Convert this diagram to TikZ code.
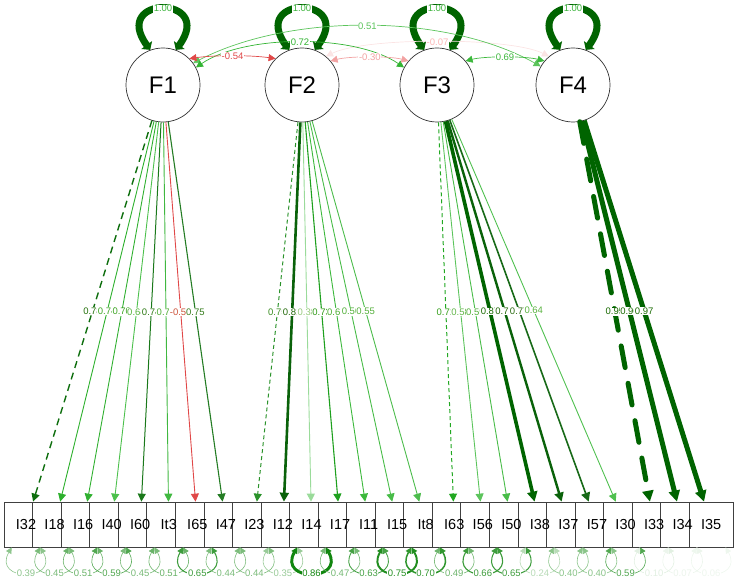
\documentclass[tikz,border=0pt]{standalone}
\usepackage{fontspec}
\setmainfont{Liberation Sans}
\usetikzlibrary{arrows.meta}
\definecolor{dg}{HTML}{006400}
\definecolor{lg}{HTML}{3CB43C}
\definecolor{resG}{HTML}{11860F}
\definecolor{redc}{HTML}{E04848}
\definecolor{pinkc}{HTML}{F2A2A2}
\definecolor{faintc}{HTML}{FBE4E4}
\definecolor{g72}{HTML}{33B433}
\definecolor{g51}{HTML}{5CC45C}
\definecolor{g69}{HTML}{3CB83C}
\definecolor{c0}{HTML}{0E6E0E}
\definecolor{c1}{HTML}{2DB02D}
\definecolor{c2}{HTML}{30B030}
\definecolor{c3}{HTML}{4CC04C}
\definecolor{c4}{HTML}{1A781A}
\definecolor{c5}{HTML}{40B840}
\definecolor{c6}{HTML}{E04848}
\definecolor{c7}{HTML}{247C24}
\definecolor{c8}{HTML}{2A922A}
\definecolor{c9}{HTML}{0A620A}
\definecolor{c10}{HTML}{9ADB9A}
\definecolor{c11}{HTML}{1EA01E}
\definecolor{c12}{HTML}{3CB83C}
\definecolor{c13}{HTML}{48BC48}
\definecolor{c14}{HTML}{4CBC4C}
\definecolor{c15}{HTML}{22A822}
\definecolor{c16}{HTML}{5CC45C}
\definecolor{c17}{HTML}{48BC48}
\definecolor{c18}{HTML}{006400}
\definecolor{c19}{HTML}{0A620A}
\definecolor{c20}{HTML}{186A18}
\definecolor{c21}{HTML}{50C050}
\definecolor{c22}{HTML}{006400}
\definecolor{c23}{HTML}{006400}
\definecolor{c24}{HTML}{006400}
\tikzset{
  lat/.style={circle, draw=black!80, fill=white, line width=0.7pt, minimum size=74pt, inner sep=0pt, font=\fontsize{24}{24}\selectfont},
  obs/.style={draw=black!75, fill=white, line width=0.7pt, minimum width=44pt, minimum height=45pt, inner sep=0pt},
  obstxt/.style={font=\fontsize{14.5}{14.5}\selectfont, inner sep=0pt},
  elab/.style={fill=white, inner sep=0.6pt, font=\fontsize{9.5}{9.5}\selectfont},
  selfloop/.style={draw=dg, line width=7pt, {Triangle[length=6pt,width=13pt]}-{Triangle[length=6pt,width=13pt]}},
  cov/.style={line width=0.7pt, {Triangle[length=7pt,width=7pt]}-{Triangle[length=7pt,width=7pt]}},
  resloop/.style={{Triangle[length=6pt,width=6pt]}-{Triangle[length=6pt,width=6pt]}},
  nd/.style={},
  da/.style={dash pattern=on 7pt off 5pt},
  db/.style={dash pattern=on 4pt off 3pt},
  dc/.style={dash pattern=on 22pt off 16pt, line cap=round}
}
\begin{document}
\begin{tikzpicture}[x=1pt,y=1pt]
\useasboundingbox (0,0) rectangle (738,584);

% latent variables
\node[lat] (F1) at (163,499) {F1};
\node[lat] (F2) at (302,499) {F2};
\node[lat] (F3) at (437,499) {F3};
\node[lat] (F4) at (573,499) {F4};

\foreach \f/\x in {F1/163,F2/302,F3/437,F4/573}{
  \draw[selfloop] (\f.110) .. controls ({\x-53},589) and ({\x+53},589) .. (\f.70)
     node[pos=0.5, elab, text=lg] (V\f) {1.00};
}

% covariances
\draw[cov, draw=faintc] (F2.50) .. controls (365,547) and (510,547) .. (F4.130)
   node[pos=0.5, elab, text=faintc!80!red] (C24) {-0.07};
\draw[cov, draw=g51] (F1.36) .. controls (290,571) and (445,571) .. (F4.150)
   node[pos=0.5, elab, text=g51] (C14) {0.51};
\draw[cov, draw=g72] (F1.28) .. controls (245,550) and (355,550) .. (F3.152)
   node[pos=0.5, elab, text=g72] (C13) {0.72};
\draw[cov, draw=pinkc] (F2.40) .. controls (350,528) and (390,528) .. (F3.140)
   node[pos=0.5, elab, text=pinkc] (C23) {-0.30};
\draw[cov, draw=redc] (F1.45) .. controls (215,529) and (250,529) .. (F2.135)
   node[pos=0.5, elab, text=redc] (C12) {-0.54};
\draw[cov, draw=g69] (F3.40) .. controls (485,528) and (525,528) .. (F4.140)
   node[pos=0.5, elab, text=g69] (C34) {0.69};

% observed variables
\foreach \k in {0,...,24}{
  \node[obs] (b\k) at ({26+28.55*\k},59.5) {};
}
\foreach \k/\n in {0/I32,1/I18,2/I16,3/I40,4/I60,5/It3,6/I65,7/I47,8/I23,9/I12,10/I14,11/I17,12/I11,13/I15,14/It8,15/I63,16/I56,17/I50,18/I38,19/I37,20/I57,21/I30,22/I33,23/I34,24/I35}{
  \node[obstxt] (t\k) at (b\k) {\n};
}

% residual variances
\foreach \k/\v in {0/0.39,1/0.45,2/0.51,3/0.59,4/0.45,5/0.51,6/0.65,7/0.44,8/0.44,9/0.35,10/0.86,11/0.47,12/0.63,13/0.75,14/0.70,15/0.49,16/0.66,17/0.65,18/0.24,19/0.40,20/0.40,21/0.59,22/0.10,23/0.07,24/0.06}{
  \pgfmathtruncatemacro\p{min(100,\v*125)}
  \pgfmathsetmacro\lw{0.6+max(0,\v-0.6)*9}
  \draw[resloop, draw=resG!\p!white, line width=\lw pt]
     ([xshift=8pt]b\k.south west) .. controls ({26+28.55*\k-34},2) and ({26+28.55*\k+34},2) .. ([xshift=-8pt]b\k.south east)
     node[pos=0.5, elab, text=resG!\p!white] (r\k) {\v};
}

% loadings
\foreach \f/\k/\c/\w/\d/\a in {F1/0/c0/1.4/da/8,F1/1/c1/0.9/nd/8,F1/2/c2/0.9/nd/8,F1/3/c3/0.9/nd/8,F1/4/c4/1.0/nd/8,F1/5/c5/0.9/nd/8,F1/6/c6/0.9/nd/8,F1/7/c7/1.1/nd/8,
  F2/8/c8/1.0/db/8,F2/9/c9/2.6/nd/9,F2/10/c10/0.9/nd/8,F2/11/c11/1.1/nd/8,F2/12/c12/0.9/nd/8,F2/13/c13/0.9/nd/8,F2/14/c14/0.9/nd/8,
  F3/15/c15/1.0/db/8,F3/16/c16/0.9/nd/8,F3/17/c17/0.9/nd/8,F3/18/c18/3.6/nd/10,F3/19/c19/2.4/nd/9,F3/20/c20/1.6/nd/9,F3/21/c21/0.9/nd/8,
  F4/22/c22/5/dc/11,F4/23/c23/5/nd/11,F4/24/c24/5/nd/11}{
  \draw[draw=\c, line width=\w pt, \d, -{Triangle[length=\a pt,width=\a pt]}] (\f) -- (b\k);
}
\foreach \f/\k/\c/\l in {F1/0/c0/0.78,F1/1/c1/0.74,F1/2/c2/0.70,F1/3/c3/0.64,F1/4/c4/0.74,F1/5/c5/0.70,F1/6/c6/-0.59,F1/7/c7/0.75,
  F2/8/c8/0.75,F2/9/c9/0.81,F2/10/c10/0.38,F2/11/c11/0.73,F2/12/c12/0.61,F2/13/c13/0.50,F2/14/c14/0.55,
  F3/15/c15/0.71,F3/16/c16/0.58,F3/17/c17/0.59,F3/18/c18/0.87,F3/19/c19/0.77,F3/20/c20/0.77,F3/21/c21/0.64,
  F4/22/c22/0.95,F4/23/c23/0.96,F4/24/c24/0.97}{
  \path (\f) -- (b\k) node[pos=0.5, elab, text=\c!80!olive] (L\k) {\l};
}
\end{tikzpicture}
\end{document}
